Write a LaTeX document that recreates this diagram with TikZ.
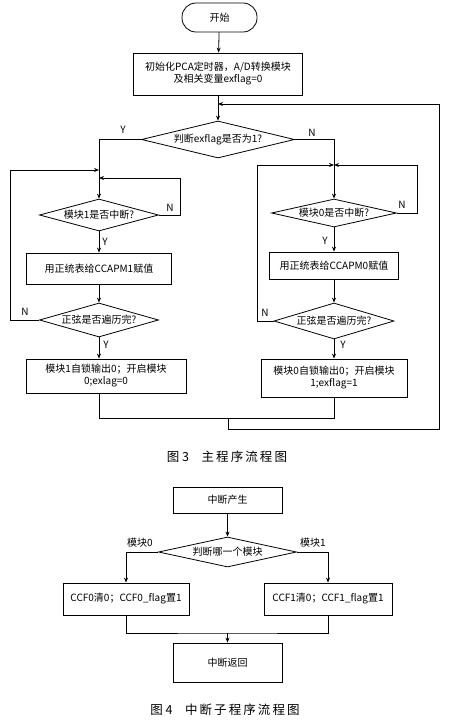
\documentclass[tikz,border=0pt]{standalone}
\usepackage{fontspec}
\setmainfont{Noto Sans CJK SC}
\usetikzlibrary{shapes.geometric,arrows.meta}

\begin{document}
\begin{tikzpicture}[x=1pt,y=1pt,yscale=-1,line width=0.8pt,
  font=\fontsize{10}{12}\selectfont,
  box/.style={draw,rectangle,inner sep=0pt,align=center},
  judge/.style={draw,diamond,inner sep=0pt},
  lab/.style={inner sep=0.75pt},
  arr/.style={-{Stealth[length=5pt,width=4pt]}}]
\useasboundingbox (0,0) rectangle (450,722);
% main program
\node[box,rounded corners=14pt,minimum width=75,minimum height=29] (start) at (219.5,17.5) {开始};
\node[box,minimum width=169,minimum height=42] (init) at (218,74) {初始化PCA定时器，A/D转换模块\\及相关变量exflag=0};
\node[judge,minimum width=153,minimum height=37,aspect=4.1] (judge) at (218,139.5) {判断exflag是否为1?};
\node[judge,minimum width=119,minimum height=32,aspect=3.7] (ask1) at (99,215) {模块1是否中断?};
\node[box,minimum width=145,minimum height=31] (set1) at (99,268.5) {用正统表给CCAPM1赋值};
\node[judge,minimum width=119,minimum height=34,aspect=3.5] (done1) at (99,320) {正弦是否遍历完?};
\node[box,minimum width=160,minimum height=34] (out1) at (106,376) {模块1自锁输出0；开启模块\\0;exlag=0};
\node[judge,minimum width=125,minimum height=28,aspect=4.5] (ask0) at (334,213) {模块0是否中断?};
\node[box,minimum width=129,minimum height=27] (set0) at (334,265.5) {用正统表给CCAPM0赋值};
\node[judge,minimum width=120,minimum height=36,aspect=3.3] (done0) at (334,321) {正弦是否遍历完?};
\node[box,minimum width=146,minimum height=38] (out0) at (334,378) {模块0自锁输出0；开启模块\\1;exflag=1};
\coordinate (m1) at (99,170);
\coordinate (r1) at (99,178);
\coordinate (m0) at (334,165);
\coordinate (back) at (218,104);
\coordinate (low1) at (99,418);
\coordinate (low0) at (334,418);
\coordinate (join) at (228,418);
\coordinate (corner) at (439,429);
\draw[arr] (start) -- (init);
\draw[arr] (init) -- (judge);
\draw (judge.west) -| (m1);
\draw[arr] (m1) -- (ask1.north);
\draw (judge.east) -| (m0);
\draw[arr] (m0) -- (ask0.north);
\draw[arr] (ask1.east) -- ++(21,0) |- (r1);
\draw[arr] (done1.west) -- ++(-29,0) |- (m1);
\draw[arr] (ask0.east) -- ++(20,0) |- (m0);
\draw[arr] (done0.west) -- ++(-16,0) |- (m0);
\draw[arr] (ask1) -- (set1);
\draw[arr] (set1) -- (done1);
\draw[arr] (done1) -- (done1.south |- out1.north);
\draw[arr] (ask0) -- (set0);
\draw[arr] (set0) -- (done0);
\draw[arr] (done0) -- (out0);
\draw (done1.south |- out1.south) -- (low1) -- (low0) -- (out0.south);
\draw[arr] (join) |- (corner) |- (back);
\node[lab] (y0) at (123,130) {Y};
\node[lab] (n0) at (312,133) {N};
\node[lab] (n1) at (170,208) {N};
\node[lab] (y1) at (105,242) {Y};
\node[lab] (n2) at (25,312) {N};
\node[lab] (y2) at (106,345) {Y};
\node[lab] (n3) at (402,205) {N};
\node[lab] (y3) at (325,241) {Y};
\node[lab] (n4) at (265,313) {N};
\node[lab] (y4) at (343,345) {Y};
\node[font=\fontsize{12.5}{14}\selectfont] (cap3) at (227,457) {图~3\quad 主\,程\,序\,流\,程\,图};
% interrupt routine
\node[box,minimum width=109,minimum height=26] (irq) at (227.5,500) {中断产生};
\node[judge,minimum width=138,minimum height=30,aspect=4.6] (which) at (227.5,552) {判断哪一个模块};
\node[box,minimum width=126,minimum height=32] (clr0) at (126,599) {CCF0清0；CCF0\_flag置1};
\node[box,minimum width=128,minimum height=32] (clr1) at (328,599) {CCF1清0；CCF1\_flag置1};
\node[box,minimum width=109,minimum height=39] (ret) at (227.5,662.5) {中断返回};
\coordinate (meet) at (227.5,633);
\draw[arr] (irq) -- (which);
\draw[arr] (which.west) -| (clr0);
\draw[arr] (which.east) -| (clr1);
\draw (clr0) |- (meet) -| (clr1);
\draw[arr] (meet) -- (ret);
\node[lab] (k0) at (140,543) {模块0};
\node[lab] (k1) at (313,543) {模块1};
\node[font=\fontsize{12.5}{14}\selectfont] (cap4) at (225,710) {图~4\quad 中\,断\,子\,程\,序\,流\,程\,图};
\end{tikzpicture}
\end{document}
